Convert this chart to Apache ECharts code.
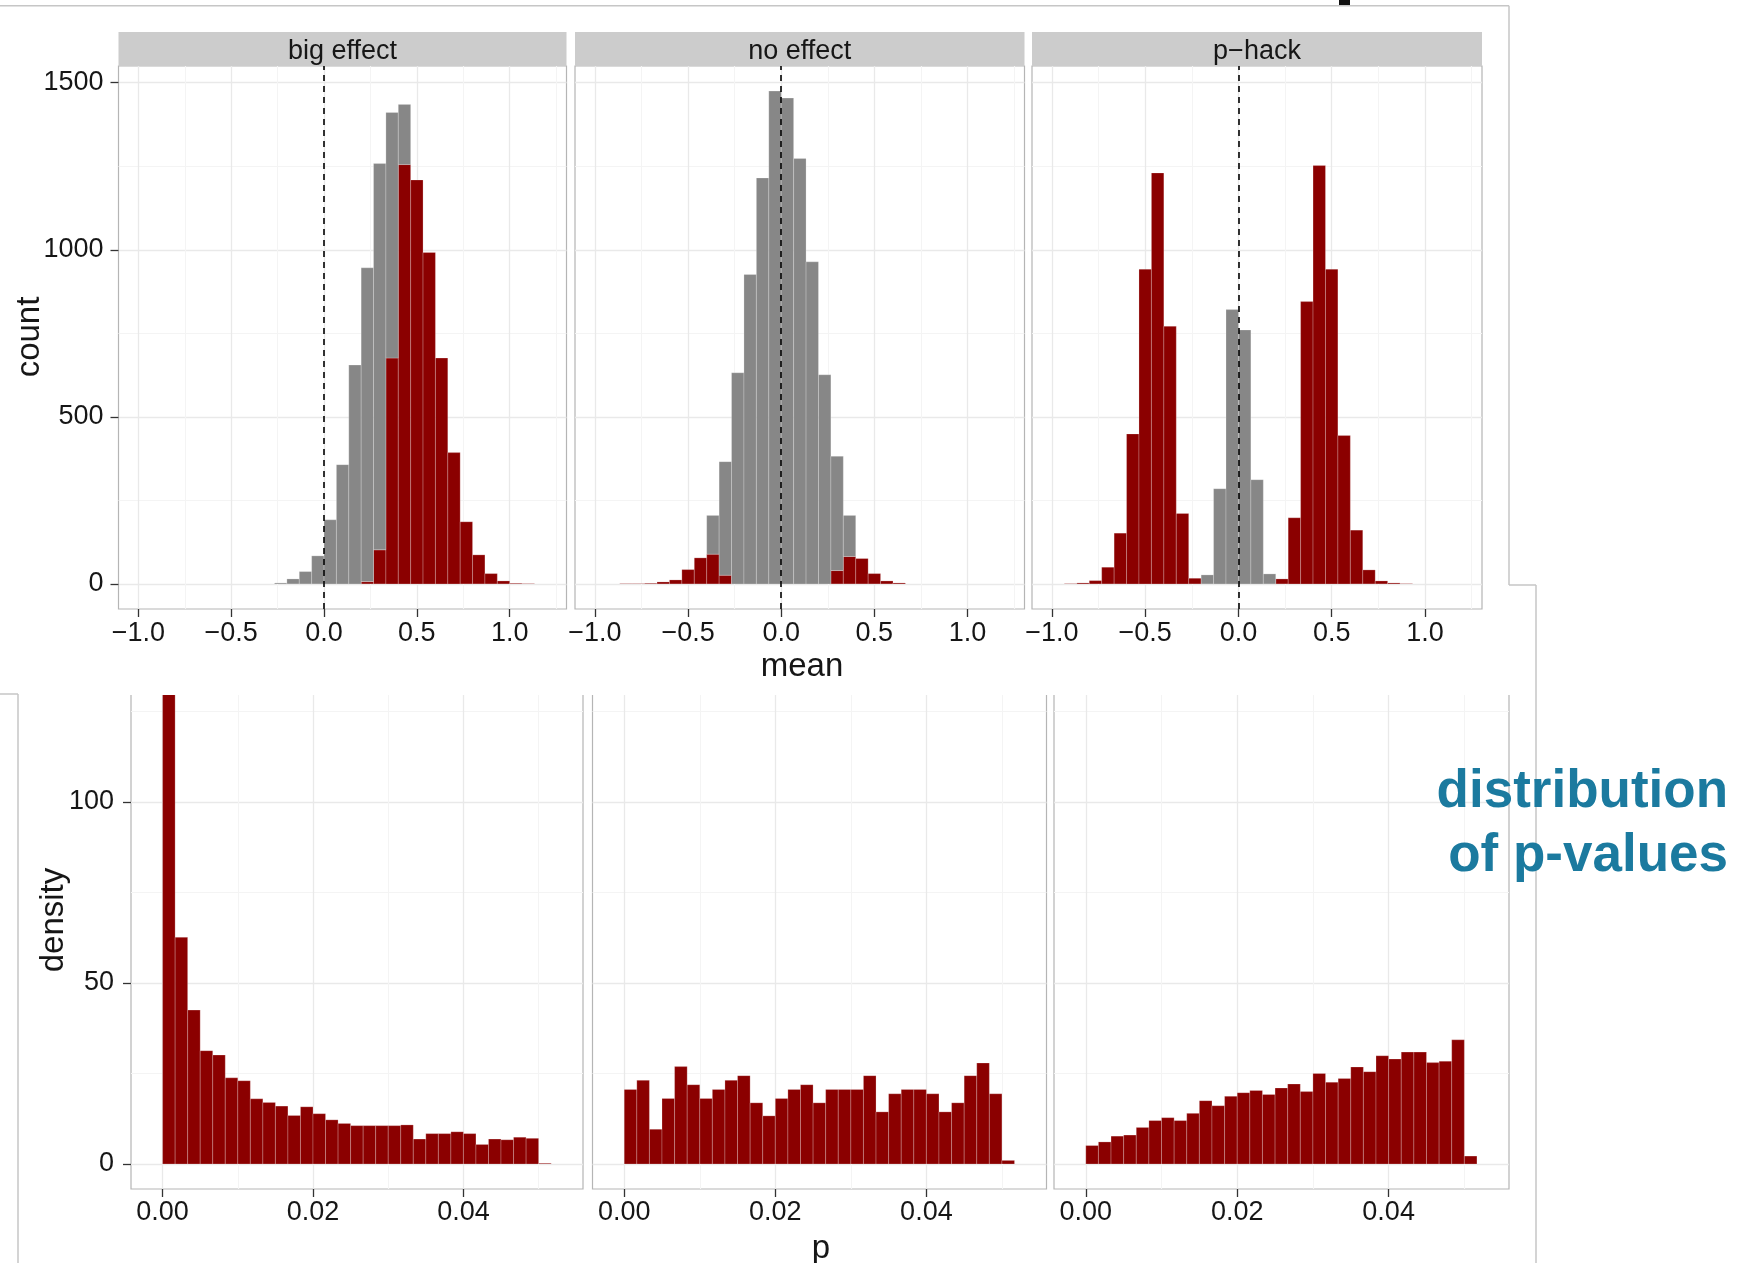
<!DOCTYPE html>
<html>
<head>
<meta charset="utf-8">
<script src="https://cdn.jsdelivr.net/npm/echarts@6/dist/echarts.min.js"></script>
<style>
  html, body { margin: 0; padding: 0; background: #fff; }
  #chart { width: 1742px; height: 1263px; }
</style>
</head>
<body>
<div id="chart"></div>
<script>
// facet strips
const panelNames = ["big effect", "no effect", "p\u2212hack"];

// top row: count of simulated means, bins 1/15 wide, first bin index per panel
const meanBinWidth = 1 / 15;
const meanFirstBin = [-4, -13, -14];
const bigEffectSig    = [0, 0, 0, 0, 0, 0, 0, 7, 102, 676, 1255, 1209, 992, 676, 393, 186, 87, 31, 9, 2, 1];
const bigEffectNonSig = [3, 15, 37, 84, 192, 357, 655, 939, 1156, 735, 180, 0, 0, 0, 0, 0, 0, 0, 0, 0, 0];
const noEffectSig     = [1, 1, 2, 6, 12, 43, 78, 89, 26, 0, 0, 0, 0, 0, 0, 0, 0, 40, 82, 76, 31, 9, 3];
const noEffectNonSig  = [0, 0, 0, 0, 0, 0, 0, 116, 340, 632, 926, 1215, 1475, 1454, 1273, 964, 626, 342, 123, 0, 0, 0, 0];
const pHackSig        = [1, 3, 10, 50, 152, 449, 942, 1230, 771, 211, 17, 0, 0, 0, 0, 0, 0, 15, 198, 845, 1252, 942, 444, 161, 42, 9, 3, 1];
const pHackNonSig     = [0, 0, 0, 0, 0, 0, 0, 0, 0, 0, 0, 27, 285, 821, 760, 312, 30, 0, 0, 0, 0, 0, 0, 0, 0, 0, 0, 0];

// bottom row: density of significant p-values, bins 1/600 wide from 0
const pBinWidth = 1 / 600;
const pBigEffect = [141, 62.6, 42.5, 31.3, 30.1, 23.8, 23.0, 18.0, 17.0, 16.0, 13.4, 15.8, 13.9, 12.2, 11.2,
                    10.6, 10.6, 10.6, 10.6, 10.8, 6.9, 8.4, 8.4, 8.9, 8.4, 5.4, 6.9, 6.7, 7.4, 7.1, 0.2];
const pNoEffect  = [20.6, 23.1, 9.6, 18.1, 26.9, 21.9, 18.1, 20.6, 23.1, 24.4, 16.9, 13.3, 18.1, 20.6, 21.9,
                    16.9, 20.6, 20.6, 20.6, 24.4, 14.4, 19.4, 20.6, 20.6, 19.4, 14.4, 16.9, 24.4, 27.9, 19.4, 1.0];
const pPHack     = [5.1, 6.1, 7.7, 8.0, 10.1, 12.0, 12.8, 12.0, 14.0, 17.5, 16.1, 18.7, 19.7, 20.3, 19.2,
                    21.0, 22.1, 20.0, 25.0, 22.6, 23.6, 26.8, 25.5, 29.9, 29.0, 30.9, 30.9, 28.0, 28.4, 34.3, 2.2];

// ticks
const meanTicks = [-1, -0.5, 0, 0.5, 1];
const meanMinor = [-0.75, -0.25, 0.25, 0.75, 1.25];
const countTicks = [0, 500, 1000, 1500];
const countMinor = [250, 750, 1250];
const pTicks = [0, 0.02, 0.04];
const pMinor = [0.01, 0.03, 0.05];
const densityTicks = [0, 50, 100];
const densityMinor = [25, 75, 125];

const RED = "#8b0000";
const GREY = "#878787";
const FONT = "Liberation Sans";
const TXT = "#161616";

const topGrids = [
  { left: 118.5, width: 448 },
  { left: 575, width: 449.5 },
  { left: 1032, width: 450 }
];
const bottomGrids = [
  { left: 131, width: 452 },
  { left: 592.5, width: 454 },
  { left: 1054, width: 455 }
];

function meanRows(first, counts, base) {
  const rows = [];
  counts.forEach((c, i) => {
    if (c <= 0) return;
    const x0 = (first + i) * meanBinWidth;
    const b = base ? base[i] : 0;
    rows.push([x0, x0 + meanBinWidth, b, b + c]);
  });
  return rows;
}

function pRows(vals) {
  return vals.map((v, i) => [i * pBinWidth, (i + 1) * pBinWidth, 0, v]);
}

function histBar(params, api) {
  const a = api.coord([api.value(0), api.value(3)]);
  const b = api.coord([api.value(1), api.value(2)]);
  const cs = params.coordSys;
  const shape = echarts.graphic.clipRectByRect(
    { x: a[0], y: a[1], width: b[0] - a[0], height: b[1] - a[1] },
    { x: cs.x, y: cs.y, width: cs.width, height: cs.height }
  );
  if (!shape) return null;
  return {
    type: "rect",
    shape: shape,
    style: { fill: api.visual("color"), stroke: "rgba(255,255,255,0.28)", lineWidth: 0.8 }
  };
}

const grids = [];
topGrids.forEach(g => grids.push({ left: g.left, width: g.width, top: 66, height: 543 }));
bottomGrids.forEach(g => grids.push({ left: g.left, width: g.width, top: 694, height: 495 }));
grids.forEach(g => {
  g.show = true;
  g.backgroundColor = "#fff";
  g.borderColor = "#b5b5b5";
  g.borderWidth = 1.2;
  g.containLabel = false;
});

const xAxes = [];
const yAxes = [];
const minorX = [];
const minorY = [];
for (let i = 0; i < 6; i++) {
  const top = i < 3;
  xAxes.push({
    type: "value",
    gridIndex: i,
    position: "bottom",
    min: top ? -1.107 : -0.0042,
    max: top ? 1.306 : 0.0559,
    axisLine: { show: false, onZero: false },
    axisTick: { show: true, length: 8, customValues: top ? meanTicks : pTicks, lineStyle: { color: "#333", width: 1.3 } },
    axisLabel: {
      customValues: top ? meanTicks : pTicks,
      fontFamily: FONT, fontSize: 27, color: TXT, margin: top ? 11 : 10,
      formatter: top
        ? v => (v < 0 ? "\u2212" : "") + Math.abs(v).toFixed(1)
        : v => v.toFixed(2)
    },
    splitLine: { show: true, lineStyle: { color: "#e9e9e9", width: 1.3 } }
  });
  minorX.push({
    type: "value",
    gridIndex: i,
    position: "top",
    min: top ? -1.107 : -0.0042,
    max: top ? 1.306 : 0.0559,
    axisLine: { show: false, onZero: false },
    axisTick: { show: false, customValues: top ? meanMinor : pMinor },
    axisLabel: { show: false, customValues: top ? meanMinor : pMinor },
    splitLine: { show: true, lineStyle: { color: "#f4f4f4", width: 1.1 } }
  });
  const first = i === 0 || i === 3;
  yAxes.push({
    type: "value",
    gridIndex: i,
    position: "left",
    min: top ? -75 : -6.9,
    max: top ? 1550 : 129.8,
    axisLine: { show: false, onZero: false },
    axisTick: { show: first, length: 8, customValues: top ? countTicks : densityTicks, lineStyle: { color: "#333", width: 1.3 } },
    axisLabel: {
      show: first,
      customValues: top ? countTicks : densityTicks,
      fontFamily: FONT, fontSize: 27, color: TXT, margin: top ? 15 : 17,
      formatter: v => String(v)
    },
    splitLine: { show: true, lineStyle: { color: "#e9e9e9", width: 1.3 } }
  });
  minorY.push({
    type: "value",
    gridIndex: i,
    position: "right",
    min: top ? -75 : -6.9,
    max: top ? 1550 : 129.8,
    axisLine: { show: false, onZero: false },
    axisTick: { show: false, customValues: top ? countMinor : densityMinor },
    axisLabel: { show: false, customValues: top ? countMinor : densityMinor },
    splitLine: { show: true, lineStyle: { color: "#f4f4f4", width: 1.1 } }
  });
}

const sigSets = [bigEffectSig, noEffectSig, pHackSig];
const nonSigSets = [bigEffectNonSig, noEffectNonSig, pHackNonSig];
const pSets = [pBigEffect, pNoEffect, pPHack];

const series = [];
for (let i = 0; i < 3; i++) {
  series.push({
    type: "custom", name: "significant", xAxisIndex: i, yAxisIndex: i,
    renderItem: histBar, itemStyle: { color: RED }, encode: { x: [0, 1], y: [2, 3] },
    data: meanRows(meanFirstBin[i], sigSets[i], null), silent: true, z: 3
  });
  series.push({
    type: "custom", name: "not significant", xAxisIndex: i, yAxisIndex: i,
    renderItem: histBar, itemStyle: { color: GREY }, encode: { x: [0, 1], y: [2, 3] },
    data: meanRows(meanFirstBin[i], nonSigSets[i], sigSets[i]), silent: true, z: 3,
    markLine: {
      silent: true, symbol: "none", animation: false,
      label: { show: false },
      lineStyle: { color: "#000", type: [6, 5], width: 1.6 },
      data: [{ xAxis: 0 }]
    }
  });
  series.push({
    type: "custom", name: "p", xAxisIndex: i + 3, yAxisIndex: i + 3,
    renderItem: histBar, itemStyle: { color: RED }, encode: { x: [0, 1], y: [2, 3] },
    data: pRows(pSets[i]), silent: true, z: 3
  });
}

const graphics = [];
topGrids.forEach((g, i) => {
  graphics.push({ type: "rect", shape: { x: g.left, y: 32, width: g.width, height: 34 }, style: { fill: "#cccccc" }, z: 50 });
  graphics.push({
    type: "text", x: g.left + g.width / 2, y: 52, z: 51,
    style: { text: panelNames[i], fontFamily: FONT, fontSize: 27, fill: TXT, align: "center", verticalAlign: "middle" }
  });
});
// axis titles
graphics.push({ type: "text", x: 802, y: 667, z: 51,
  style: { text: "mean", fontFamily: FONT, fontSize: 33, fill: TXT, align: "center", verticalAlign: "middle" } });
graphics.push({ type: "text", x: 821, y: 1249, z: 51,
  style: { text: "p", fontFamily: FONT, fontSize: 33, fill: TXT, align: "center", verticalAlign: "middle" } });
graphics.push({ type: "text", x: 30, y: 337, rotation: Math.PI / 2, z: 51,
  style: { text: "count", fontFamily: FONT, fontSize: 33, fill: TXT, align: "center", verticalAlign: "middle" } });
graphics.push({ type: "text", x: 54, y: 920, rotation: Math.PI / 2, z: 51,
  style: { text: "density", fontFamily: FONT, fontSize: 33, fill: TXT, align: "center", verticalAlign: "middle" } });
// slide annotation
graphics.push({ type: "text", x: 1728, y: 792, z: 60,
  style: { text: "distribution", fontFamily: FONT, fontWeight: "bold", fontSize: 53, fill: "#1b7a9f", align: "right", verticalAlign: "middle" } });
graphics.push({ type: "text", x: 1728, y: 856, z: 60,
  style: { text: "of p-values", fontFamily: FONT, fontWeight: "bold", fontSize: 53, fill: "#1b7a9f", align: "right", verticalAlign: "middle" } });
// cropped top of the lower figure
graphics.push({ type: "rect", shape: { x: 120, y: 678, width: 1400, height: 17 }, style: { fill: "#fff" }, z: 40 });
// screenshot frame edges
const frame = "#c6c6c6";
[
  [0, 5.7, 1509, 5.7],
  [1509, 5.7, 1509, 585],
  [1509, 585, 1536, 585],
  [1536, 585, 1536, 1263],
  [0, 694, 18, 694],
  [18, 694, 18, 1263]
].forEach(l => graphics.push({
  type: "line", shape: { x1: l[0], y1: l[1], x2: l[2], y2: l[3] },
  style: { stroke: frame, lineWidth: 1.5 }, z: 45
}));
graphics.push({ type: "rect", shape: { x: 1339, y: 0, width: 11, height: 5 }, style: { fill: "#111" }, z: 45 });

const chart = echarts.init(document.getElementById("chart"), null, { renderer: "canvas" });
chart.setOption({
  animation: false,
  backgroundColor: "#fff",
  grid: grids,
  xAxis: xAxes.concat(minorX),
  yAxis: yAxes.concat(minorY),
  series: series,
  graphic: graphics
});
</script>
</body>
</html>
